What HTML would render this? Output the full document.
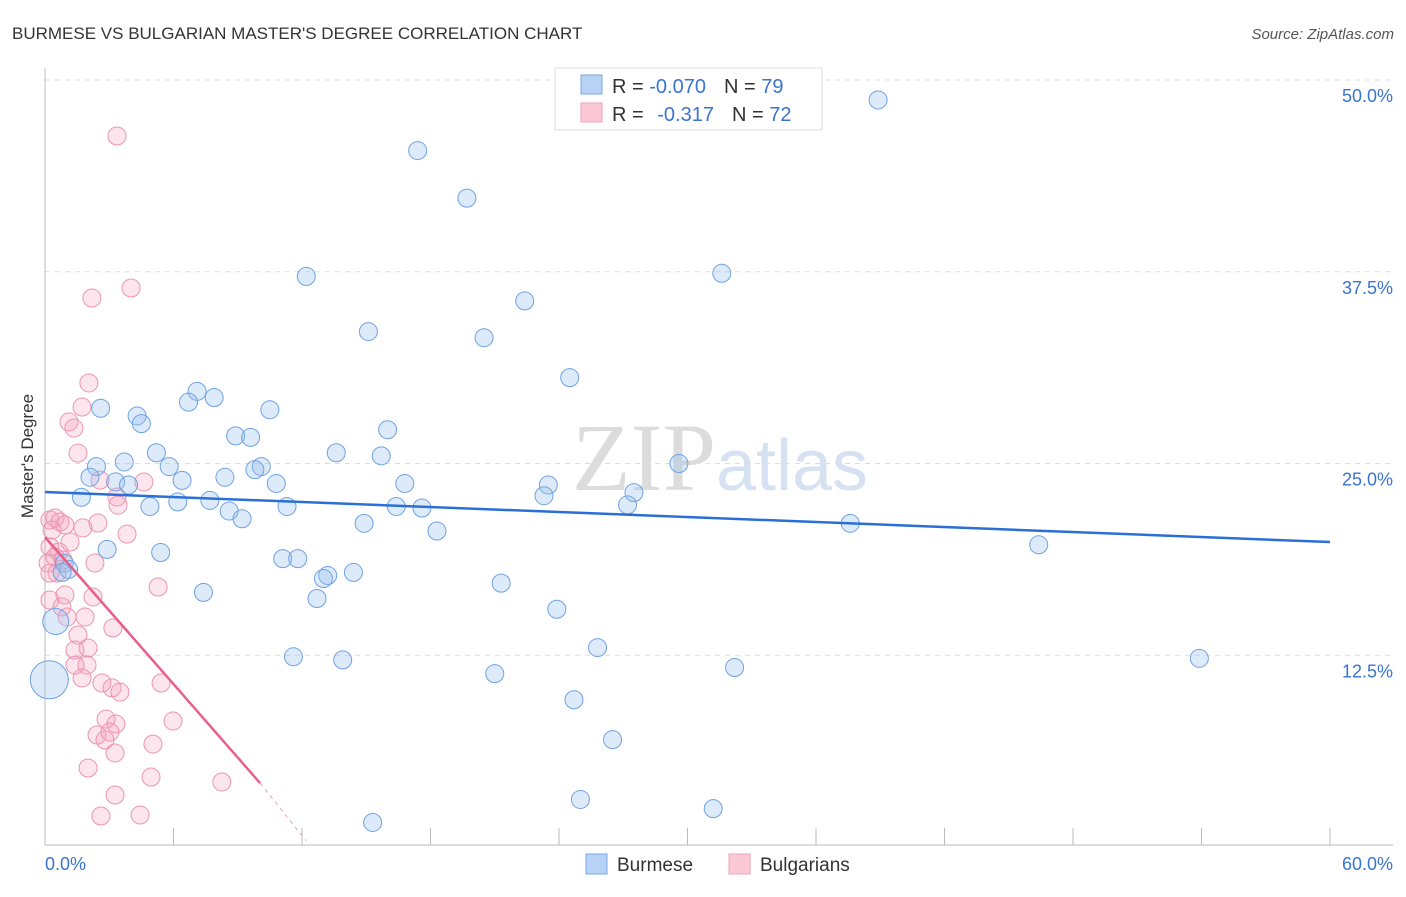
<!DOCTYPE html>
<html><head><meta charset="utf-8"><style>
body{margin:0;background:#fff;font-family:"Liberation Sans",sans-serif}
svg text{font-family:"Liberation Sans",sans-serif}
</style></head><body>
<svg width="1406" height="892" id="chart">
<text x="12" y="39" font-size="17" fill="#333">BURMESE VS BULGARIAN MASTER'S DEGREE CORRELATION CHART</text>
<text x="1394" y="39" font-size="15" fill="#555" font-style="italic" text-anchor="end">Source: ZipAtlas.com</text>
<text x="720" y="490" font-size="96" fill="#e4e4e4" text-anchor="middle"><tspan font-family="Liberation Serif" fill="#dcdcdc">ZIP</tspan><tspan fill="#d6e2f2" font-size="72">atlas</tspan></text>
<g id="grid"></g><g id="axes"></g><g id="pts"></g><g id="lines"></g>
<text transform="translate(33,456) rotate(-90)" font-size="17" fill="#333" text-anchor="middle">Master's Degree</text>
<g>
<rect x="555" y="68" width="267" height="62" fill="#fff" stroke="#ddd"/>
<rect x="581" y="75" width="21" height="19" fill="#b8d2f5" stroke="#7aa8e6"/>
<rect x="581" y="103" width="21" height="19" fill="#fbc8d6" stroke="#f0a0b8"/>
<text x="612" y="93" font-size="20" fill="#333">R = <tspan fill="#3a74d0">-0.070</tspan><tspan dx="18">N = </tspan><tspan fill="#3a74d0">79</tspan></text>
<text x="612" y="121" font-size="20" fill="#333">R = <tspan dx="8" fill="#3a74d0">-0.317</tspan><tspan dx="18">N = </tspan><tspan fill="#3a74d0">72</tspan></text>
</g>
<g>
<rect x="586" y="854" width="21" height="20" fill="#b8d2f5" stroke="#7aa8e6"/>
<text x="617" y="871" font-size="19" fill="#333">Burmese</text>
<rect x="729" y="854" width="21" height="20" fill="#fbc8d6" stroke="#f0a0b8"/>
<text x="760" y="871" font-size="19" fill="#333">Bulgarians</text>
</g>
</svg>
<script>
const yTicks=[12.5,25,37.5,50];
const yTickLabels=["12.5%","25.0%","37.5%","50.0%"];
const xTickVals=[0,6,12,18,24,30,36,42,48,54,60];
const blueX=[38.9,17.4,19.7,12.2,31.6,22.4,15.1,20.5,24.5,7.1,6.7,7.9,2.6,10.5,4.3,4.5,16.0,8.9,9.6,5.2,13.6,15.7,3.7,2.4,5.8,10.1,9.8,29.6,2.1,3.3,3.9,6.4,8.4,10.8,16.8,23.5,1.7,23.3,27.5,7.7,6.2,4.9,11.3,16.4,17.6,27.2,8.6,9.2,14.9,37.6,18.3,46.4,2.9,5.4,11.1,11.8,0.9,1.1,0.8,13.2,13.0,14.4,21.3,7.4,12.7,23.9,25.8,11.6,13.9,53.9,32.2,21.0,24.7,26.5,25.0,31.2,15.3,0.5,0.2];
const blueY=[48.7,45.4,42.3,37.2,37.4,35.6,33.6,33.2,30.6,29.7,29.0,29.3,28.6,28.5,28.1,27.6,27.2,26.8,26.7,25.7,25.7,25.5,25.1,24.8,24.8,24.8,24.6,25.0,24.1,23.8,23.6,23.9,24.1,23.7,23.7,23.6,22.8,22.9,23.1,22.6,22.5,22.2,22.2,22.2,22.1,22.3,21.9,21.4,21.1,21.1,20.6,19.7,19.4,19.2,18.8,18.8,18.5,18.1,17.9,17.7,17.5,17.9,17.2,16.6,16.2,15.5,13.0,12.4,12.2,12.3,11.7,11.3,9.6,7.0,3.1,2.5,1.6,14.7,10.9];
const blueR=[9,9,9,9,9,9,9,9,9,9,9,9,9,9,9,9,9,9,9,9,9,9,9,9,9,9,9,9,9,9,9,9,9,9,9,9,9,9,9,9,9,9,9,9,9,9,9,9,9,9,9,9,9,9,9,9,9,9,9,9,9,9,9,9,9,9,9,9,9,9,9,9,9,9,9,9,9,13,19];
const pinkX=[3.36,4.02,2.19,2.05,1.73,1.12,1.35,1.54,2.57,4.62,3.36,3.41,0.23,0.47,0.70,0.93,0.33,2.47,1.77,3.83,1.17,0.23,0.65,0.47,0.14,2.33,0.84,0.56,0.23,5.28,0.23,2.24,0.93,0.79,1.03,1.87,3.17,1.54,2.01,1.40,1.96,1.40,1.73,5.42,2.66,3.13,3.50,5.98,2.85,3.31,2.43,3.03,2.80,5.04,3.27,2.01,4.95,8.26,3.27,2.61,4.44];
const pinkY=[46.35,36.44,35.79,30.25,28.68,27.71,27.31,25.68,23.92,23.79,22.82,22.29,21.32,21.45,21.19,20.99,20.66,21.12,20.80,20.40,19.88,19.56,19.23,18.90,18.51,18.51,18.71,17.86,17.86,16.95,16.10,16.30,16.43,15.65,14.99,14.99,14.28,13.82,12.97,12.84,11.86,11.86,11.02,10.69,10.69,10.37,10.10,8.21,8.34,8.02,7.30,7.50,6.98,6.71,6.13,5.15,4.56,4.24,3.39,2.02,2.09];
const blueTrend=[0,23.14,60,19.88];
const pinkTrend=[0,20.2,10.04,4.17,12.2,0.4];
const NS="http://www.w3.org/2000/svg";
const X=v=>45+v/60*1285, Y=v=>847-v*15.34;
function mk(t,a,p){const e=document.createElementNS(NS,t);for(const k in a)e.setAttribute(k,a[k]);document.getElementById(p).appendChild(e);return e;}
yTicks.forEach((t,i)=>{
 const l=mk('line',{x1:45,x2:1393,y1:Y(t),y2:Y(t),stroke:'#ddd','stroke-dasharray':'5,5'},'grid');
 
 
 const tx=mk('text',{x:1393,y:Y(t)+22,'font-size':18,fill:'#3a74d0','text-anchor':'end'},'grid');
 tx.textContent=yTickLabels[i];
 
 
});
let a=mk('line',{x1:45,x2:45,y1:68,y2:845,stroke:'#bbb'},'axes');


a=mk('line',{x1:45,x2:1393,y1:845,y2:845,stroke:'#bbb'},'axes');


xTickVals.forEach(v=>{const t=mk('line',{x1:X(v),x2:X(v),y1:828,y2:845,stroke:'#bbb'},'axes');
 
 });
let t0=mk('text',{x:45,y:870,'font-size':18,fill:'#3a74d0'},'axes');t0.textContent='0.0%';


let t1=mk('text',{x:1393,y:870,'font-size':18,fill:'#3a74d0','text-anchor':'end'},'axes');t1.textContent='60.0%';


pinkX.forEach((v,i)=>{const c=mk('circle',{cx:X(v),cy:Y(pinkY[i]),r:9,fill:'rgba(245,160,185,0.28)',stroke:'#ec94b0','stroke-width':1},'pts');
 
 });
blueX.forEach((v,i)=>{const c=mk('circle',{cx:X(v),cy:Y(blueY[i]),r:blueR[i],fill:'rgba(150,190,240,0.32)',stroke:'#6fa2e2','stroke-width':1},'pts');
 
 });
let bl=mk('line',{x1:X(blueTrend[0]),y1:Y(blueTrend[1]),x2:X(blueTrend[2]),y2:Y(blueTrend[3]),stroke:'#2a6fd6','stroke-width':2.5},'lines');


let pl=mk('line',{x1:X(pinkTrend[0]),y1:Y(pinkTrend[1]),x2:X(pinkTrend[2]),y2:Y(pinkTrend[3]),stroke:'#e8608c','stroke-width':2.5},'lines');


let pd=mk('line',{x1:X(pinkTrend[2]),y1:Y(pinkTrend[3]),x2:X(pinkTrend[4]),y2:Y(pinkTrend[5]),stroke:'#e8a0b8','stroke-width':1,'stroke-dasharray':'4,4'},'lines');


</script>
</body></html>
